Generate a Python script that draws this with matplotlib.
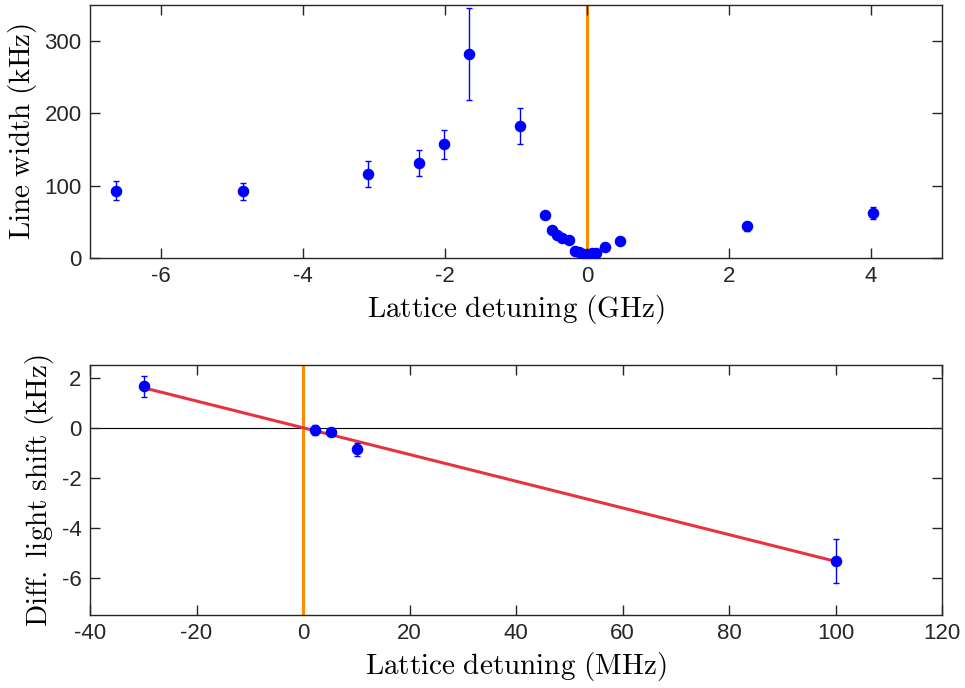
import numpy as np
import matplotlib.pyplot as plt

plt.rcParams['axes.unicode_minus'] = False
plt.rcParams['mathtext.fontset'] = 'cm'

# top panel: line width vs lattice detuning (GHz)
det_ghz = [-6.64, -4.85, -3.08, -2.37, -2.01, -1.66, -0.95,
           -0.596, -0.488, -0.418, -0.348, -0.253, -0.169, -0.11, -0.04,
           0.01, 0.075, 0.12, 0.25, 0.46, 2.25, 4.02]
width_khz = [93, 92, 116, 131, 157, 282, 182,
             59, 39, 32, 28, 25, 10, 8, 5,
             4, 6.5, 7, 15, 23, 44, 62]
width_err = [13, 12, 18, 18, 20, 63, 25,
             2, 2, 2, 2, 2, 2, 2, 2,
             2, 2, 2, 2, 2, 6, 8]

# bottom panel: differential light shift vs lattice detuning (MHz)
det_mhz = [-29.9, 2.25, 5.2, 10.2, 100.0]
shift_khz = [1.67, -0.09, -0.17, -0.87, -5.33]
shift_err = [0.42, 0.2, 0.08, 0.25, 0.88]
fit_slope = -0.0535
fit_x = [-29.9, 100.0]

blue = '#0000ff'
orange = '#ff8c00'
red = '#e63341'
tick_font = 'Liberation Sans'


def cm(s):
  # LaTeX-looking axis labels
  return r'$\mathrm{' + s.replace(' ', r'\ ') + '}$'


fig = plt.figure(figsize=(9.65, 6.88), dpi=100)
ax1 = fig.add_axes([0.0933, 0.625, 0.883, 0.368])
ax2 = fig.add_axes([0.0933, 0.106, 0.883, 0.363])


def style(ax):
  ax.tick_params(direction='in', top=True, right=True, length=7, width=1,
                 labelsize=16, colors='#262626', pad=6)
  for s in ax.spines.values():
    s.set_color('#262626')
    s.set_linewidth(1.0)
  for lab in ax.get_xticklabels() + ax.get_yticklabels():
    lab.set_fontfamily(tick_font)


ax1.axvline(0, color=orange, lw=2.2, zorder=1)
ax1.errorbar(det_ghz, width_khz, yerr=width_err, fmt='o', color=blue, ms=7.3,
             elinewidth=1, capsize=2, capthick=1, zorder=3)
ax1.set_xlim(-7, 5)
ax1.set_ylim(0, 350)
ax1.set_xticks([-6, -4, -2, 0, 2, 4])
ax1.set_yticks([0, 100, 200, 300])
ax1.set_xlabel(cm('Lattice detuning (GHz)'), fontsize=21, labelpad=4)
ax1.set_ylabel(cm('Line width (kHz)'), fontsize=21, labelpad=4)
style(ax1)

ax2.axhline(0, color='black', lw=0.8, zorder=1)
ax2.axvline(0, color=orange, lw=2.2, zorder=2)
fx = np.array(fit_x)
ax2.plot(fx, fit_slope * fx, color=red, lw=2.2, zorder=3)
ax2.errorbar(det_mhz, shift_khz, yerr=shift_err, fmt='o', color=blue, ms=7.3,
             elinewidth=1, capsize=2, capthick=1, zorder=4)
ax2.set_xlim(-40, 120)
ax2.set_ylim(-7.5, 2.5)
ax2.set_xticks(np.arange(-40, 121, 20))
ax2.set_yticks([-6, -4, -2, 0, 2])
ax2.set_xlabel(cm('Lattice detuning (MHz)'), fontsize=21, labelpad=4)
ax2.set_ylabel(cm('Diff. light shift (kHz)'), fontsize=21, labelpad=4)
style(ax2)

fig.savefig('out.png', dpi=100)
